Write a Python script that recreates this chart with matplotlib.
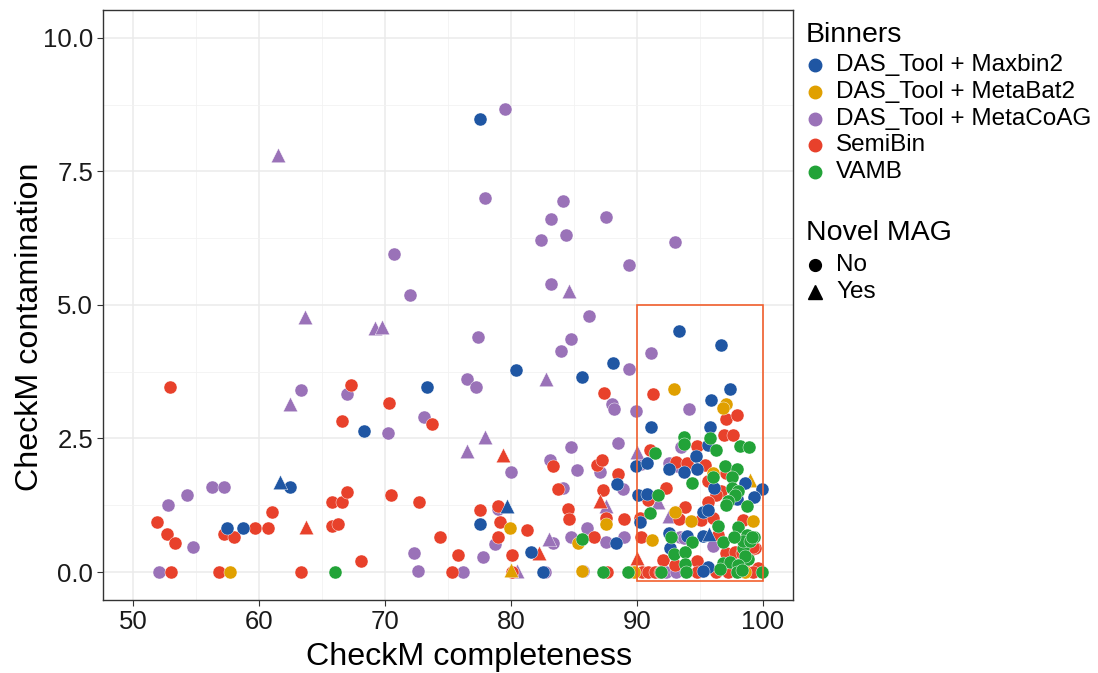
import matplotlib
matplotlib.use("Agg")
import matplotlib.pyplot as plt
from matplotlib.lines import Line2D
from matplotlib.patches import Rectangle
import numpy as np

plt.rcParams['font.family'] = ['Liberation Sans', 'DejaVu Sans']

# ---------------- data (CheckM completeness, contamination, novel flag) ----------------
maxbin2_x = [77.5, 80.4, 73.3, 68.3, 57.5, 58.7, 62.5, 77.5, 81.6, 82.5, 88.1, 85.6, 88.4, 88.3,
             93.3, 96.7, 97.4, 95.9, 91.1, 95.8, 95.6, 89.9, 90.8, 94.7, 92.5, 93.7, 94.8, 98.6,
             99.9, 96.1, 90.1, 90.8, 99.3, 97.9, 90.2, 95.2, 95.6, 92.5, 94.0, 95.2, 92.6, 95.6,
             95.2, 61.7, 79.7, 95.7]
maxbin2_y = [8.48, 3.78, 3.46, 2.64, 0.82, 0.82, 1.59, 0.90, 0.38, 0.00, 3.91, 3.65, 1.64, 0.54,
             4.52, 4.25, 3.42, 3.22, 2.72, 2.72, 2.38, 1.99, 2.04, 2.17, 1.93, 1.87, 1.93, 1.67,
             1.55, 1.57, 1.44, 1.46, 1.40, 1.37, 0.94, 1.12, 1.16, 0.73, 0.67, 0.67, 0.45, 0.09,
             0.02, 1.69, 1.24, 0.71]
maxbin2_novel = [0] * 43 + [1, 1, 1]

metabat2_x = [57.7, 79.9, 87.5, 85.3, 85.6, 92.9, 97.1, 96.8, 96.0, 93.0, 94.3, 99.2, 91.2, 89.8,
              98.6, 80.0, 99.0]
metabat2_y = [0.00, 0.82, 0.90, 0.54, 0.02, 3.42, 3.15, 3.07, 1.85, 1.12, 0.96, 0.96, 0.60, 0.00,
              0.00, 0.03, 1.72]
metabat2_novel = [0] * 15 + [1, 1]

metacoag_x = [79.5, 77.9, 84.1, 83.2, 84.4, 82.4, 87.5, 89.4, 93.0, 70.7, 72.0, 83.2, 86.2, 77.4,
              84.8, 84.0, 91.1, 63.3, 67.0, 76.5, 77.2, 89.4, 88.0, 88.2, 89.9, 94.1, 73.1, 70.2,
              80.0, 88.5, 84.8, 83.1, 85.2, 87.1, 88.9, 84.1, 86.0, 84.8, 87.5, 89.0, 83.3, 78.7,
              77.8, 79.0, 72.3, 72.6, 76.2, 82.7, 85.7, 56.3, 57.2, 54.3, 52.8, 54.8, 52.1, 93.5,
              90.3, 92.5, 93.2, 93.4, 93.7, 96.0, 92.3, 93.1,
              61.5, 63.65, 62.5, 69.2, 69.8, 84.6, 82.8, 76.5, 77.9, 87.5, 83.0, 80.5, 90.0, 91.7,
              92.5]
metacoag_y = [8.67, 7.00, 6.95, 6.61, 6.31, 6.22, 6.65, 5.75, 6.18, 5.95, 5.19, 5.39, 4.80, 4.40,
              4.36, 4.14, 4.10, 3.41, 3.33, 3.62, 3.47, 3.80, 3.15, 3.05, 3.01, 3.05, 2.90, 2.61,
              1.87, 2.41, 2.34, 2.10, 1.91, 1.88, 1.55, 1.57, 0.82, 0.65, 0.56, 0.65, 0.54, 0.52,
              0.28, 1.18, 0.36, 0.02, 0.00, 0.00, 0.02, 1.59, 1.59, 1.44, 1.25, 0.47, 0.00, 2.34,
              2.02, 2.04, 1.99, 0.66, 0.64, 0.49, 0.00, 0.00,
              7.80, 4.78, 3.15, 4.57, 4.59, 5.26, 3.61, 2.27, 2.53, 1.23, 0.61, 0.02, 2.25, 1.31,
              1.05]
metacoag_novel = [0] * 64 + [1] * 15

semibin_x = [52.9, 66.6, 67.3, 51.9, 52.7, 53.3, 57.2, 58.0, 59.7, 60.7, 61.0, 65.8, 66.6, 67.0,
             65.8, 66.3, 53.0, 56.8, 63.3, 70.3, 73.7, 87.4, 83.3, 86.8, 87.2, 88.5, 83.7, 87.3,
             84.5, 84.6, 87.5, 89.0, 86.6, 80.1, 79.0, 79.1, 77.5, 79.0, 81.3, 74.4, 75.8, 68.1,
             70.5, 72.7, 75.3, 80.1, 87.6, 89.4, 91.3, 97.1, 97.9, 96.9, 97.6, 94.8, 91.0, 93.1,
             94.0, 95.4, 97.1, 95.6, 92.3, 96.7, 90.9, 96.3, 95.6, 93.8, 90.2, 93.3, 95.1, 96.0,
             98.4, 90.3, 96.4, 97.1, 97.8, 99.0, 99.4, 92.1, 94.8, 93.0, 98.4, 99.6, 98.3, 99.2,
             90.4, 90.9, 91.4, 91.8, 94.8, 96.3, 97.2, 99.2,
             63.7, 79.4, 87.1, 82.2, 90.0]
semibin_y = [3.46, 2.83, 3.50, 0.94, 0.71, 0.54, 0.71, 0.66, 0.82, 0.82, 1.12, 1.31, 1.31, 1.50,
             0.86, 0.90, 0.00, 0.00, 0.00, 3.17, 2.77, 3.35, 1.99, 2.00, 2.10, 1.83, 1.55, 1.53,
             1.18, 0.99, 1.01, 0.99, 0.65, 0.32, 0.65, 0.94, 1.16, 1.24, 0.79, 0.65, 0.32, 0.20,
             1.44, 1.31, 0.00, 0.00, 0.00, 0.00, 3.34, 2.87, 2.94, 2.57, 2.57, 2.36, 2.28, 2.06,
             2.04, 2.00, 1.85, 1.70, 1.57, 1.52, 1.35, 1.44, 1.31, 1.22, 1.01, 0.99, 0.97, 1.01,
             0.97, 0.65, 0.69, 0.36, 0.37, 0.41, 0.45, 0.22, 0.21, 0.13, 0.13, 0.07, 0.36, 0.47,
             0.00, 0.00, 0.00, 0.00, 0.00, 0.00, 0.00, 0.00,
             0.84, 2.19, 1.33, 0.36, 0.26]
semibin_novel = [0] * 92 + [1] * 5

vamb_x = [66.0, 85.6, 87.3, 89.3, 93.7, 93.7, 95.8, 98.2, 98.9, 96.3, 91.4, 96.0, 97.0, 97.9,
          97.5, 94.4, 97.5, 98.0, 91.7, 97.8, 97.2, 98.7, 91.0, 96.4, 97.1, 98.0, 98.7, 99.3,
          92.7, 94.4, 96.8, 92.9, 93.8, 98.4, 93.8, 96.8, 97.4, 98.8, 98.4, 99.0, 97.7, 99.1,
          98.6, 98.0, 91.9, 93.9, 97.9, 99.9, 96.6, 98.3]
vamb_y = [0.00, 0.62, 0.00, 0.00, 2.53, 2.40, 2.51, 2.36, 2.34, 2.28, 2.22, 1.78, 1.99, 1.93,
          1.78, 1.67, 1.57, 1.52, 1.44, 1.44, 1.33, 1.24, 1.10, 0.86, 1.25, 0.84, 0.69, 0.66,
          0.66, 0.56, 0.56, 0.34, 0.37, 0.45, 0.15, 0.17, 0.19, 0.24, 0.58, 0.58, 0.66, 0.66,
          0.30, 0.13, 0.00, 0.00, 0.00, 0.00, 0.05, 0.03]
vamb_novel = [0] * 50

binner_names = ["DAS_Tool + Maxbin2", "DAS_Tool + MetaBat2", "DAS_Tool + MetaCoAG", "SemiBin", "VAMB"]
binner_colors = ["#1F56A3", "#E0A000", "#9A72B8", "#E8412B", "#22A338"]
novel_labels = ["No", "Yes"]
x_ticks = [50, 60, 70, 80, 90, 100]
y_ticks = [0.0, 2.5, 5.0, 7.5, 10.0]
box_x = [90, 100]
box_y = [-0.17, 5.0]

series = {
    "DAS_Tool + Maxbin2": (maxbin2_x, maxbin2_y, maxbin2_novel),
    "DAS_Tool + MetaBat2": (metabat2_x, metabat2_y, metabat2_novel),
    "DAS_Tool + MetaCoAG": (metacoag_x, metacoag_y, metacoag_novel),
    "SemiBin": (semibin_x, semibin_y, semibin_novel),
    "VAMB": (vamb_x, vamb_y, vamb_novel),
}
color_of = dict(zip(binner_names, binner_colors))

# ---------------- figure ----------------
W, H = 1098, 673
fig = plt.figure(figsize=(W / 100, H / 100), dpi=100)
ax = fig.add_axes([103 / W, 1 - 600 / H, 690 / W, 590 / H])

draw_order = ["DAS_Tool + MetaCoAG", "SemiBin", "DAS_Tool + MetaBat2", "DAS_Tool + Maxbin2", "VAMB"]
for name in draw_order:
    xs, ys, nv = series[name]
    xs = np.asarray(xs); ys = np.asarray(ys); nv = np.asarray(nv, dtype=bool)
    ax.scatter(xs[~nv], ys[~nv], s=88, marker='o', color=color_of[name],
               edgecolors='white', linewidths=0.3, zorder=3)
    ax.scatter(xs[nv], ys[nv], s=110, marker='^', color=color_of[name],
               edgecolors='white', linewidths=0.3, zorder=3)

ax.add_patch(Rectangle((box_x[0], box_y[0]), box_x[1] - box_x[0], box_y[1] - box_y[0],
                       fill=False, edgecolor="#F2602E", linewidth=1.2, zorder=4))

ax.set_xticks(x_ticks)
ax.set_xticklabels([str(t) for t in x_ticks])
ax.set_yticks(y_ticks)
ax.set_yticklabels([f"{t:.1f}" for t in y_ticks])
ax.set_xticks([55, 65, 75, 85, 95], minor=True)
ax.set_yticks([1.25, 3.75, 6.25, 8.75], minor=True)
ax.set_xlim(47.62, 102.38)
ax.set_ylim(-0.524, 10.52)
ax.grid(which='major', color='#EBEBEB', linewidth=1.1, zorder=0)
ax.grid(which='minor', color='#F2F2F2', linewidth=0.6, zorder=0)
ax.set_axisbelow(True)
ax.tick_params(which='minor', length=0)
ax.tick_params(which='major', length=4, width=0.8, color='#333333', labelsize=18.5,
               labelcolor='#1a1a1a', pad=3)
for sp in ax.spines.values():
    sp.set_color('#333333')
    sp.set_linewidth(1.0)

fig.text(469 / W, 1 - 657 / H, "CheckM completeness", ha='center', va='center', fontsize=23.2)
fig.text(30 / W, 1 - 327 / H, "CheckM contamination", ha='center', va='center',
         rotation=90, fontsize=23.2)

# ---------------- legends ----------------
fig.text(806 / W, 1 - 35 / H, "Binners", ha='left', va='center', fontsize=20.5)
for i, (name, col) in enumerate(zip(binner_names, binner_colors)):
    yy = 1 - (65 + i * 26.8) / H
    fig.add_artist(Line2D([815 / W], [yy], marker='o', markersize=9, color=col,
                          linestyle='none', transform=fig.transFigure))
    fig.text(836 / W, yy, name, ha='left', va='center', fontsize=17.5)

fig.text(806 / W, 1 - 233 / H, "Novel MAG", ha='left', va='center', fontsize=20.5)
for i, (lab, mk) in enumerate(zip(novel_labels, ['o', '^'])):
    yy = 1 - (265 + i * 27) / H
    fig.add_artist(Line2D([815 / W], [yy], marker=mk, markersize=8.5 if mk == 'o' else 9.5,
                          color='black', linestyle='none', transform=fig.transFigure))
    fig.text(836 / W, yy, lab, ha='left', va='center', fontsize=17.5)

fig.savefig("out.png", dpi=100)
